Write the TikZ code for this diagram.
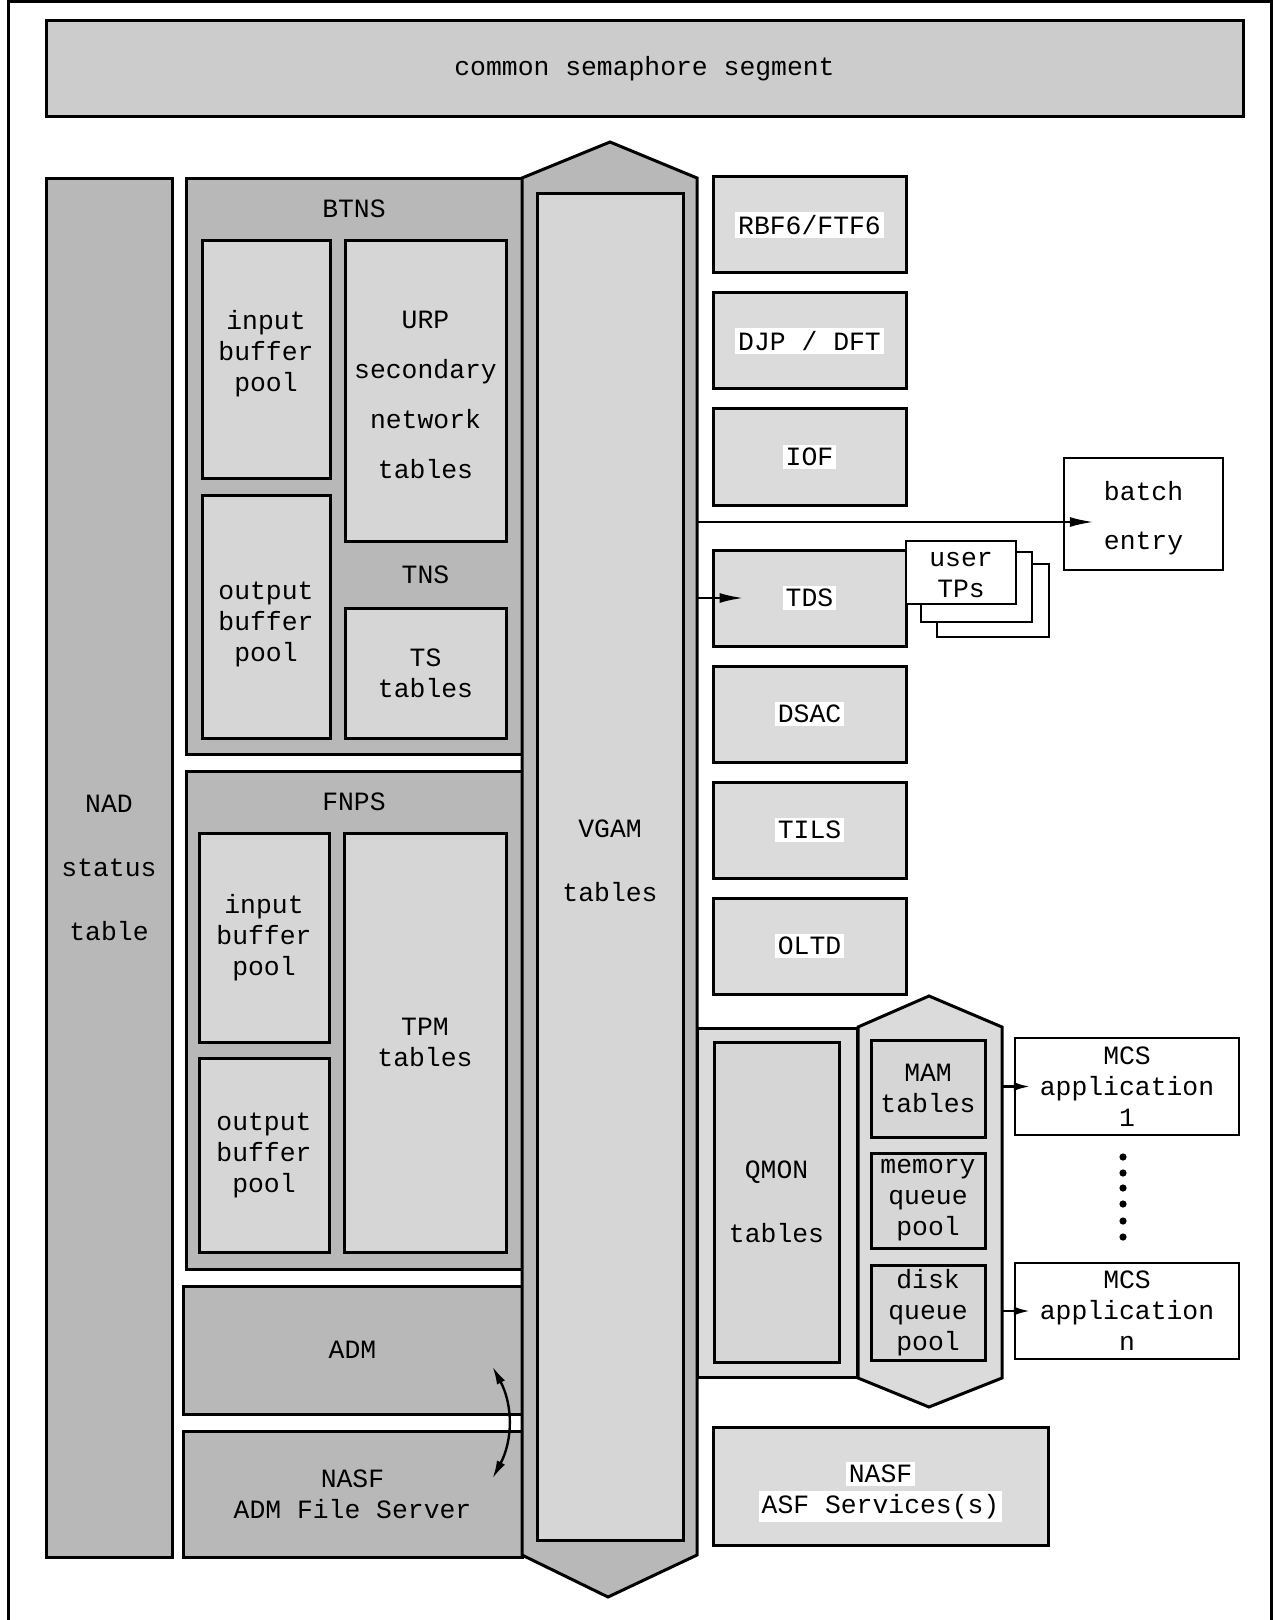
\documentclass[tikz,border=0pt]{standalone}
\usepackage{fontspec}
\setmainfont{Liberation Mono}
\usetikzlibrary{positioning, calc, fit, arrows.meta}
\definecolor{GrisFondo}{gray}{0.72}
\definecolor{GrisClaro}{gray}{0.84}
\definecolor{GrisPunto}{gray}{0.86}
\definecolor{GrisSemaforo}{gray}{0.80}
\newcommand{\blanco}[1]{{\setlength{\fboxsep}{1.5pt}\colorbox{white}{#1}}}

\begin{document}
\begin{tikzpicture}[
    x=0.5pt, y=-0.5pt, % una unidad = un pixel del original, y hacia abajo
    >={Latex[length=12pt, width=5pt]},
    texto/.style={font=\fontsize{13.2}{15.5}\selectfont, align=center, inner sep=0pt},
    caja/.style={draw, line width=1.5pt, inner sep=0pt},
    contenedor/.style={caja, fill=GrisFondo},
    interior/.style={caja, fill=GrisClaro},
    punteada/.style={caja, fill=GrisPunto},
    lateral/.style={punteada, texto, minimum width=96.5pt, minimum height=48pt},
    blanca/.style={draw, line width=1.2pt, fill=white, inner sep=0pt},
    flecha/.style={->, line width=1.2pt},
    flecha chica/.style={-{Latex[length=8pt, width=4.5pt]}, line width=1.2pt},
    flecha doble/.style={{Latex[length=9pt, width=4.5pt]}-{Latex[length=9pt, width=4.5pt]}, line width=1.2pt}
]
    \useasboundingbox (0,0) rectangle (1274,1620);

    % 1. Marco exterior (abierto por abajo)
    \draw[line width=1.5pt] (8,1620) -- (8,2) -- (1271,2) -- (1271,1620);

    % 2. Segmento comun de semaforos
    \node[caja, fill=GrisSemaforo, fit={(46,21) (1243,117)}] (semaforo) {};
    \node[texto] (semaforo-t) at (semaforo) {common semaphore segment};

    % 3. Tabla de estado NAD
    \node[contenedor, fit={(46,179) (172,1557)}] (nad) {};
    \node[texto] (nad-t) at (nad) {NAD\\[16.5pt]status\\[16.5pt]table};

    % 4. BTNS con sus tablas
    \node[contenedor, fit={(186,179) (522,754)}] (btns) {};
    \node[texto] (btns-t) at ([yshift=-15.5pt]btns.north) {BTNS};
    \node[interior, fit={(202,241) (330,478)}] (entrada1) {};
    \node[texto] (entrada1-t) at ([yshift=3pt]entrada1) {input\\buffer\\pool};
    \node[interior, fit={(345,241) (506,541)}] (urp) {};
    \node[texto] (urp-t) at ([yshift=-2pt]urp) {URP\\[9.5pt]secondary\\[9.5pt]network\\[9.5pt]tables};
    \node[interior, fit={(202,495) (330,738)}] (salida1) {};
    \node[texto] (salida1-t) at ([yshift=-4pt]salida1) {output\\buffer\\pool};
    \node[interior, fit={(345,608) (506,738)}] (ts) {};
    \node[texto] (ts-t) at (ts) {TS\\tables};
    \node[texto] (tns) at ($(urp.south)!0.5!(ts.north)$) {TNS};

    % 5. FNPS con sus tablas
    \node[contenedor, fit={(186,771) (522,1269)}] (fnps) {};
    \node[texto] (fnps-t) at ([yshift=-16pt]fnps.north) {FNPS};
    \node[interior, fit={(199,833) (329,1042)}] (entrada2) {};
    \node[texto] (entrada2-t) at (entrada2) {input\\buffer\\pool};
    \node[interior, fit={(344,833) (506,1252)}] (tpm) {};
    \node[texto] (tpm-t) at (tpm) {TPM\\tables};
    \node[interior, fit={(199,1058) (329,1252)}] (salida2) {};
    \node[texto] (salida2-t) at (salida2) {output\\buffer\\pool};

    % 6. ADM y su servidor de ficheros
    \node[contenedor, fit={(183,1286) (522,1414)}] (adm) {};
    \node[texto] (adm-t) at (adm) {ADM};
    \node[contenedor, fit={(183,1431) (522,1557)}] (nasfadm) {};
    \node[texto] (nasfadm-t) at (nasfadm) {NASF\\ADM File Server};
    \draw[flecha doble] ([shift={(-31,-49)}]adm.south east) to[bend left=28] ([shift={(-31,49)}]nasfadm.north east);

    % 7. QMON (antes que VGAM, comparten borde)
    \node[punteada, fit={(697,1028) (857,1377)}] (qmonmarco) {};
    \node[interior, fit={(714,1042) (839,1362)}] (qmon) {};
    \node[texto] (qmon-t) at (qmon) {QMON\\[16.5pt]tables};

    % 8. Columna central VGAM (hexagono alargado)
    \coordinate (vgam-n) at (610,142);
    \coordinate (vgam-ne) at (697,178);
    \coordinate (vgam-se) at (697,1555);
    \coordinate (vgam-s) at (608,1597);
    \coordinate (vgam-sw) at (522,1555);
    \coordinate (vgam-nw) at (522,178);
    \draw[line width=1.5pt, fill=GrisFondo] (vgam-n) -- (vgam-ne) -- (vgam-se) -- (vgam-s) -- (vgam-sw) -- (vgam-nw) -- cycle;
    \node[interior, fit={(537,194) (683,1540)}] (vgam) {};
    \node[texto] (vgam-t) at ([yshift=3pt]vgam) {VGAM\\[16.5pt]tables};

    % 9. Columna de subsistemas a la derecha
    \node[lateral] (rbf) at (809.5,225) {\blanco{RBF6/FTF6}};
    \node[lateral, below=8.5pt of rbf] (djp) {\blanco{DJP / DFT}};
    \node[lateral, below=8.5pt of djp] (iof) {\blanco{IOF}};
    \node[lateral, below=21pt of iof] (tds) {\blanco{TDS}};
    \node[lateral, below=8.5pt of tds] (dsac) {\blanco{DSAC}};
    \node[lateral, below=8.5pt of dsac] (tils) {\blanco{TILS}};
    \node[lateral, below=8.5pt of tils] (oltd) {\blanco{OLTD}};

    % 10. TPs de usuario apilados y entrada batch
    \node[blanca, fit={(937,564) (1049,637)}] (tp3) {};
    \node[blanca, fit={(921,552) (1032,622)}] (tp2) {};
    \node[blanca, fit={(906,541) (1016,604)}] (tp1) {};
    \node[texto] (tp1-t) at ([yshift=-1.5pt]tp1) {user\\TPs};
    \node[blanca, fit={(1064,458) (1223,570)}] (batch) {};
    \node[texto] (batch-t) at ([yshift=-2pt]batch) {batch\\[9pt]entry};

    \coordinate (lote) at ([yshift=-4pt]batch.west);
    \draw[flecha] (vgam-ne |- lote) -- ([xshift=15.5pt]lote);
    \draw[flecha] (vgam-ne |- tds.west) -- ([xshift=16pt]tds.west);

    % 11. MAM (hexagono) con sus colas
    \coordinate (mam-n) at (929,996);
    \coordinate (mam-ne) at (1002,1027);
    \coordinate (mam-se) at (1002,1378);
    \coordinate (mam-s) at (929,1407);
    \coordinate (mam-sw) at (858,1378);
    \coordinate (mam-nw) at (858,1027);
    \draw[line width=1.5pt, fill=GrisPunto] (mam-n) -- (mam-ne) -- (mam-se) -- (mam-s) -- (mam-sw) -- (mam-nw) -- cycle;
    \node[interior, fit={(871,1040) (985,1137)}] (mam) {};
    \node[texto] (mam-t) at (mam) {MAM\\tables};
    \node[interior, fit={(871,1153) (985,1248)}] (memoria) {};
    \node[texto] (memoria-t) at (memoria) {memory\\queue\\pool};
    \node[interior, fit={(871,1265) (985,1360)}] (disco) {};
    \node[texto] (disco-t) at (disco) {disk\\queue\\pool};

    % 12. Aplicaciones MCS
    \node[blanca, fit={(1015,1038) (1239,1135)}] (mcs1) {};
    \node[texto] (mcs1-t) at (mcs1) {MCS\\application\\1};
    \node[blanca, fit={(1015,1263) (1239,1359)}] (mcsn) {};
    \node[texto] (mcsn-t) at (mcsn) {MCS\\application\\n};
    \draw[flecha chica] (mam-ne |- mcs1.west) -- ([xshift=8pt]mcs1.west);
    \draw[flecha chica] (mam-ne |- mcsn.west) -- ([xshift=8pt]mcsn.west);
    \foreach \y in {1157,1173,1188,1204,1221,1237}
        \fill (1123,\y) circle (1.8pt);

    % 13. Servicios NASF
    \node[punteada, fit={(713,1427) (1048,1545)}] (nasfasf) {};
    \node[texto] (nasfasf-t) at ([yshift=-3pt]nasfasf) {\blanco{NASF}\\\blanco{ASF Services(s)}};

\end{tikzpicture}
\end{document}
